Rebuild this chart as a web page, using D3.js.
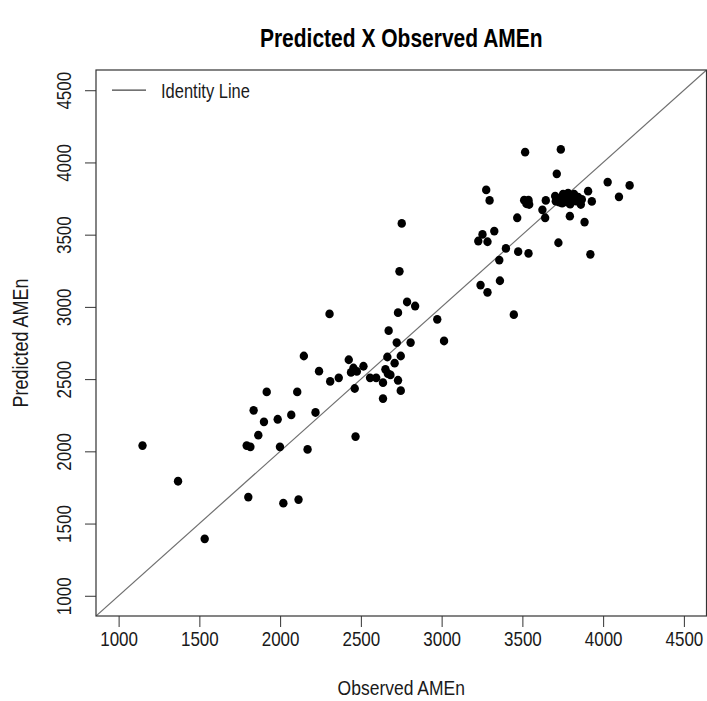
<!DOCTYPE html>
<html>
<head>
<meta charset="utf-8">
<script src="https://cdn.jsdelivr.net/npm/d3@7/dist/d3.min.js"></script>
<style>
    body { margin: 0; background: #fff; }
    svg text { font-family: "Liberation Sans", Arial, sans-serif; fill: #1a1a1a; }
</style>
</head>
<body>
<div id="chart"></div>
<script>
// Observed vs predicted AMEn, one pair per sample
const observed = [
    1148, 1368, 1533, 1803, 2020, 2114, 1793, 1816, 1865, 1900,
    1836, 1917, 1985, 2069, 2106, 1999, 2170, 2219, 2462, 2467,
    2753, 2739, 2786, 2836, 2730, 2306, 2973, 2672, 3015, 2722,
    2808, 2147, 2425, 2664, 2747, 2709, 2516, 2241, 2454, 2439,
    2475, 2652, 2667, 2683, 2363, 2310, 2557, 2595, 2637, 2730,
    2747, 2637, 3517, 3738, 3713, 3276, 3297, 4028, 4164, 4098,
    3907, 3930, 3511, 3538, 3525, 3542, 3645, 3703, 3707, 3624,
    3641, 3794, 3885, 3468, 3326, 3253, 3227, 3284, 3398, 3474,
    3538, 3723, 3921, 3357, 3361, 3241, 3284, 3447, 3868, 3862,
    3734, 3752, 3771, 3783, 3802, 3820, 3808, 3777, 3746, 3833,
    3796, 3845, 3759, 3728
];
const predicted = [
    2040, 1793, 1394, 1683, 1641, 1666, 2040, 2031, 2112, 2204,
    2284, 2411, 2222, 2252, 2411, 2031, 2013, 2269, 2435, 2102,
    3578, 3246, 3034, 3006, 2960, 2951, 2914, 2835, 2764, 2753,
    2753, 2660, 2634, 2653, 2660, 2610, 2589, 2555, 2577, 2546,
    2553, 2568, 2538, 2529, 2509, 2484, 2509, 2509, 2475, 2492,
    2420, 2365, 4071, 4090, 3921, 3810, 3737, 3864, 3841, 3762,
    3801, 3730, 3739, 3739, 3714, 3709, 3737, 3767, 3732, 3672,
    3617, 3628, 3587, 3617, 3525, 3502, 3456, 3451, 3405, 3382,
    3370, 3444, 3364, 3324, 3181, 3151, 3101, 2946, 3744, 3709,
    3753, 3781, 3760, 3788, 3767, 3781, 3739, 3725, 3718, 3732,
    3711, 3760, 3739, 3725
];
const xTicks = [1000, 1500, 2000, 2500, 3000, 3500, 4000, 4500];
const yTicks = [1000, 1500, 2000, 2500, 3000, 3500, 4000, 4500];
const axisLimits = [1000, 4500];

const config = {
    containerWidth: 707,
    containerHeight: 701,
    margin: {top: 70, right: 0.5, bottom: 85, left: 96},
    stretch: 1.2   // the source lettering is tall and narrow
};

const width = config.containerWidth - config.margin.left - config.margin.right;
const height = config.containerHeight - config.margin.top - config.margin.bottom;
const st = config.stretch;

const svg = d3.select('#chart').append('svg')
    .attr('width', config.containerWidth)
    .attr('height', config.containerHeight);

const chart = svg.append('g')
    .attr('transform', `translate(${config.margin.left},${config.margin.top})`);

// R style limits: 4% padding on each side of xlim / ylim
const pad = (axisLimits[1] - axisLimits[0]) * 0.04;
const domain = [axisLimits[0] - pad, axisLimits[1] + pad];

const xScale = d3.scaleLinear().domain(domain).range([0, width]);
const yScale = d3.scaleLinear().domain(domain).range([height, 0]);

// Axes
const xAxisG = chart.append('g')
    .attr('transform', `translate(0,${height})`)
    .call(d3.axisBottom(xScale).tickValues(xTicks).tickSize(11).tickFormat(d3.format('d')))
    .call(g => g.select('.domain').remove());
xAxisG.selectAll('line').attr('stroke', '#333');
xAxisG.selectAll('text')
    .attr('y', null).attr('dy', 0)
    .attr('transform', `translate(0,30) scale(1,${st})`)
    .style('font-size', '17px');

// rotated labels: glyph height runs along screen x, so stretch x
const yAxisG = chart.append('g')
    .call(d3.axisLeft(yScale).tickValues(yTicks).tickSize(11).tickFormat(d3.format('d')))
    .call(g => g.select('.domain').remove());
yAxisG.selectAll('line').attr('stroke', '#333');
yAxisG.selectAll('text')
    .attr('x', null).attr('dy', 0)
    .attr('text-anchor', 'middle')
    .attr('transform', `translate(-25,0) scale(${st},1) rotate(-90)`)
    .style('font-size', '17px');

// Clip for the identity line
chart.append('defs').append('clipPath')
    .attr('id', 'plot-clip')
    .append('rect')
    .attr('width', width)
    .attr('height', height);

chart.append('line')
    .attr('clip-path', 'url(#plot-clip)')
    .attr('x1', xScale(domain[0]))
    .attr('y1', yScale(domain[0]))
    .attr('x2', xScale(domain[1]))
    .attr('y2', yScale(domain[1]))
    .attr('stroke', '#707070')
    .attr('stroke-width', 1.2);

// Points
chart.selectAll('.dot')
    .data(observed.map((d, i) => ({obs: d, pred: predicted[i]})))
    .join('ellipse')
    .attr('class', 'dot')
    .attr('cx', d => xScale(d.obs))
    .attr('cy', d => yScale(d.pred))
    .attr('rx', 4.2)
    .attr('ry', 4.4)
    .attr('fill', '#000');

// Plot box
chart.append('rect')
    .attr('width', width)
    .attr('height', height)
    .attr('fill', 'none')
    .attr('stroke', '#333')
    .attr('stroke-width', 1.2);

// Legend (no box)
const legend = chart.append('g')
    .attr('transform', `translate(0,${yScale(4500)})`);
legend.append('line')
    .attr('x1', 16).attr('x2', 50)
    .attr('stroke', '#444').attr('stroke-width', 1.2);
legend.append('text')
    .attr('transform', `translate(65,8) scale(1,${st})`)
    .style('font-size', '16.5px')
    .text('Identity Line');

// Titles
svg.append('text')
    .attr('transform', `translate(${config.margin.left + width / 2},47) scale(1,${st})`)
    .attr('text-anchor', 'middle')
    .style('font-size', '21px')
    .style('font-weight', 'bold')
    .style('fill', '#000')
    .text('Predicted X Observed AMEn');

svg.append('text')
    .attr('transform', `translate(${config.margin.left + width / 2},695) scale(1,${st})`)
    .attr('text-anchor', 'middle')
    .style('font-size', '17.5px')
    .text('Observed AMEn');

svg.append('text')
    .attr('transform', `translate(28,${config.margin.top + height / 2}) scale(${st},1) rotate(-90)`)
    .attr('text-anchor', 'middle')
    .style('font-size', '18px')
    .text('Predicted AMEn');
</script>
</body>
</html>
